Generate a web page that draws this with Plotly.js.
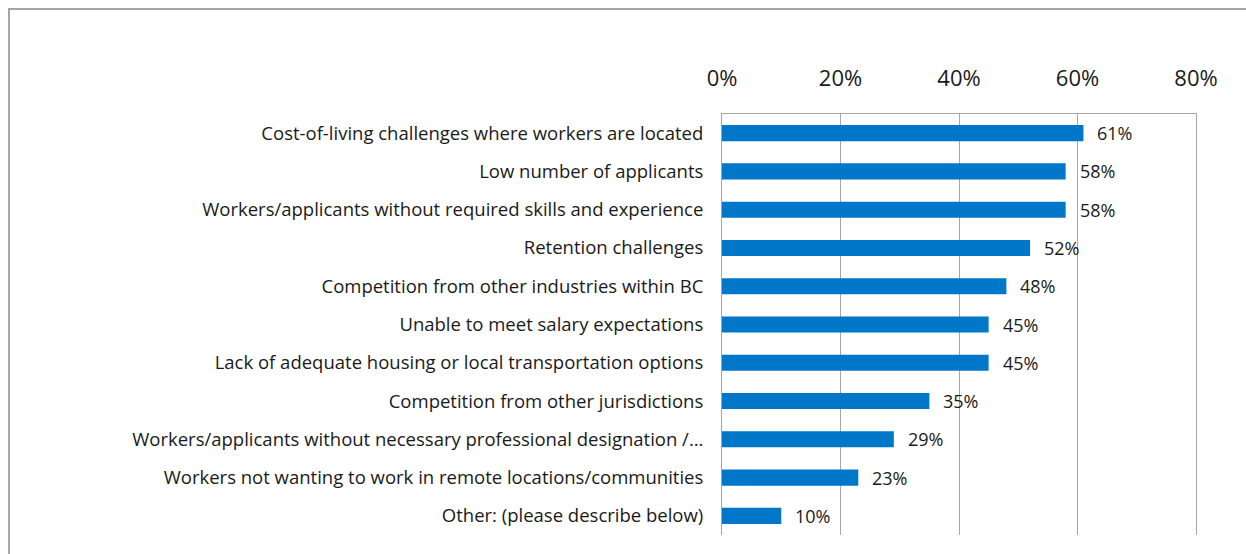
<!DOCTYPE html>
<html>
<head>
<meta charset="utf-8">
<script src="https://cdn.plot.ly/plotly-3.0.1.min.js"></script>
<style>
  html, body { margin: 0; padding: 0; background: #fff; overflow: hidden; }
  #frame { position: absolute; left: 8px; top: 8px; width: 1400px; height: 700px;
           border-left: 2px solid #a6a6a6; border-top: 2px solid #a6a6a6; }
  #chart { position: absolute; left: 0; top: 0; width: 1246px; height: 554px; }
</style>
</head>
<body>
<div id="frame"></div>
<div id="chart"></div>
<script>
const categories = [
  "Cost-of-living challenges where workers are located",
  "Low number of applicants",
  "Workers/applicants without required skills and experience",
  "Retention challenges",
  "Competition from other industries within BC",
  "Unable to meet salary expectations",
  "Lack of adequate housing or local transportation options",
  "Competition from other jurisdictions",
  "Workers/applicants without necessary professional designation /…",
  "Workers not wanting to work in remote locations/communities",
  "Other: (please describe below)"
];
const values = [61, 58, 58, 52, 48, 45, 45, 35, 29, 23, 10];
const tickVals = [0, 20, 40, 60, 80];
const tickText = ["0%", "20%", "40%", "60%", "80%"];

const fontFam = "'Open Sans', sans-serif";

const trace = {
  type: "bar",
  orientation: "h",
  x: values,
  y: categories,
  width: 0.42,
  marker: { color: "#0077c8" },
  hoverinfo: "skip"
};

const annotations = values.map((v, i) => ({
  x: v, y: categories[i], xref: "x", yref: "y",
  text: v + "%", showarrow: false, xanchor: "left", xshift: 12,
  font: { family: fontFam, size: 18, color: "#1a1a1a" }
}));

const layout = {
  width: 1246, height: 554,
  margin: { l: 722, r: 50, t: 114, b: 19, pad: 0 },
  paper_bgcolor: "rgba(0,0,0,0)",
  plot_bgcolor: "rgba(0,0,0,0)",
  showlegend: false,
  xaxis: {
    side: "top",
    range: [0, 80],
    tickvals: tickVals, ticktext: tickText,
    showgrid: true, gridcolor: "#a6a6a6", gridwidth: 1,
    showline: true, linecolor: "#a6a6a6", linewidth: 1, mirror: false,
    zeroline: false,
    ticks: "", ticklabelstandoff: 18,
    tickfont: { family: fontFam, size: 22, color: "#1a1a1a" },
    fixedrange: true
  },
  yaxis: {
    autorange: "reversed",
    type: "category",
    showline: true, linecolor: "#a6a6a6", linewidth: 1, mirror: true,
    showgrid: false, zeroline: false,
    ticks: "", ticklabelstandoff: 14,
    tickfont: { family: fontFam, size: 18.5, color: "#1a1a1a" },
    fixedrange: true
  },
  annotations: annotations
};

Plotly.newPlot("chart", [trace], layout, { staticPlot: true, displayModeBar: false });
</script>
</body>
</html>
